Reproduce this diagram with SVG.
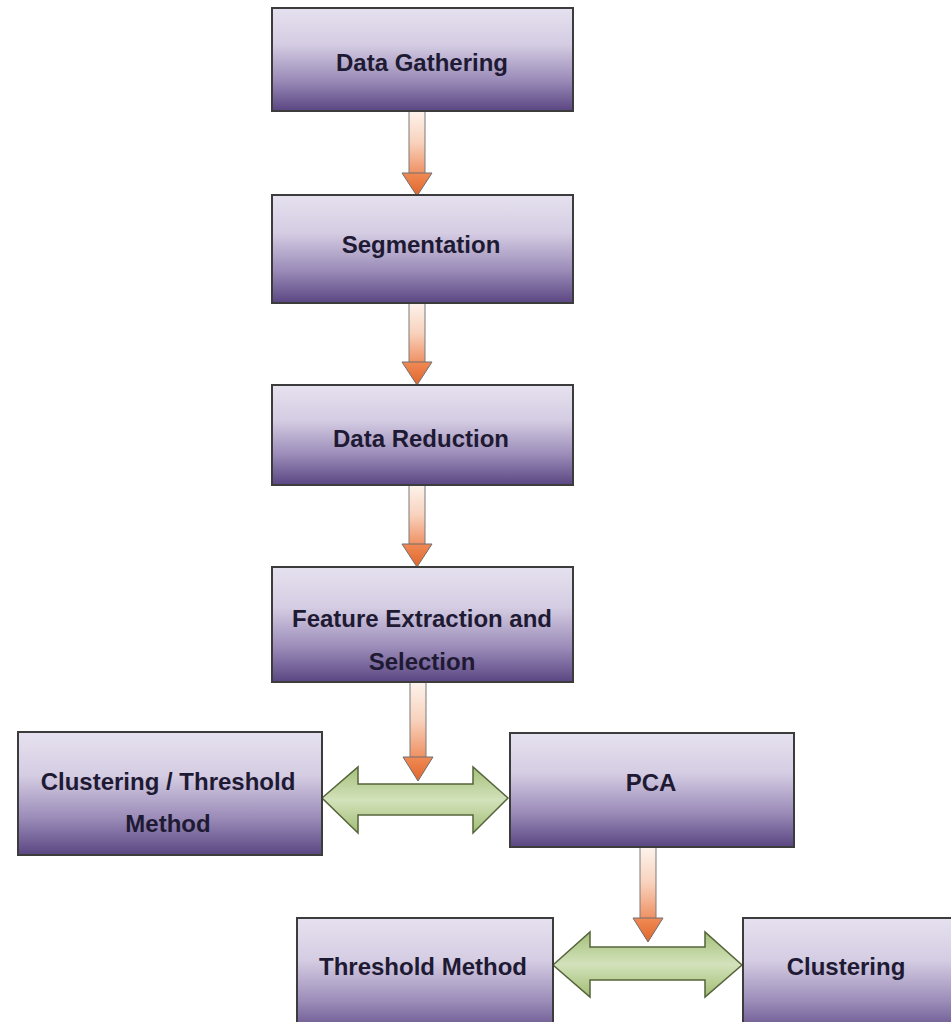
<svg xmlns="http://www.w3.org/2000/svg" width="951" height="1022" viewBox="0 0 951 1022">
<defs>
<linearGradient id="boxg" x1="0" y1="0" x2="0" y2="1">
<stop offset="0" stop-color="#e6e1ef"/>
<stop offset="0.35" stop-color="#d5cde3"/>
<stop offset="0.7" stop-color="#9a8bb8"/>
<stop offset="1" stop-color="#5a4682"/>
</linearGradient>
<linearGradient id="shaftg" x1="0" y1="0" x2="0" y2="1">
<stop offset="0" stop-color="#fdf3ec"/>
<stop offset="0.5" stop-color="#f8d2bd"/>
<stop offset="1" stop-color="#ef8f61"/>
</linearGradient>
<linearGradient id="headg" x1="0" y1="0" x2="0" y2="1">
<stop offset="0" stop-color="#f08a55"/>
<stop offset="1" stop-color="#e0662c"/>
</linearGradient>
<linearGradient id="greeng" x1="0" y1="0" x2="0" y2="1">
<stop offset="0" stop-color="#a4c07a"/>
<stop offset="0.5" stop-color="#d3e2bb"/>
<stop offset="1" stop-color="#a1bd74"/>
</linearGradient>
</defs>
<style>
.box{fill:url(#boxg);stroke:#3c3c3c;stroke-width:2}
.lbl{font-family:"Liberation Sans",Arial,sans-serif;font-weight:bold;font-size:24px;fill:#1f1a33;text-anchor:middle}
.shaft{fill:url(#shaftg);stroke:#7a7a7a;stroke-width:1}
.head{fill:url(#headg);stroke:#6e6e6e;stroke-width:1}
.dbl{fill:url(#greeng);stroke:#55643a;stroke-width:1.5}
</style>
<rect width="951" height="1022" fill="#ffffff"/>
<g id="connectors">
<rect class="shaft" x="409" y="111" width="16" height="63"/>
<polygon class="head" points="402,173 432,173 417,196"/>
<rect class="shaft" x="409" y="303" width="16" height="60"/>
<polygon class="head" points="402,362 432,362 417,385"/>
<rect class="shaft" x="409" y="485" width="16" height="60"/>
<polygon class="head" points="402,544 432,544 417,567"/>
<rect class="shaft" x="410" y="682" width="16" height="76"/>
<polygon class="head" points="403,757 433,757 418,781"/>
<polygon class="dbl" points="322,798 358,767 358,784 473,784 473,767 508,798 473,833 473,815 358,815 358,833"/>
<rect class="shaft" x="640" y="847" width="16" height="72"/>
<polygon class="head" points="633,918 663,918 648,942"/>
<polygon class="dbl" points="553,965 590,932 590,947 705,947 705,932 742,965 705,997 705,980 590,980 590,997"/>
</g>
<g id="n1"><rect class="box" x="272" y="8" width="301" height="103"/><text class="lbl" x="422" y="71">Data Gathering</text></g>
<g id="n2"><rect class="box" x="272" y="195" width="301" height="108"/><text class="lbl" x="421" y="253">Segmentation</text></g>
<g id="n3"><rect class="box" x="272" y="385" width="301" height="100"/><text class="lbl" x="421" y="447">Data Reduction</text></g>
<g id="n4"><rect class="box" x="272" y="567" width="301" height="115"/><text class="lbl" x="422" y="627">Feature Extraction and</text><text class="lbl" x="422" y="670">Selection</text></g>
<g id="n5"><rect class="box" x="18" y="732" width="304" height="123"/><text class="lbl" x="168" y="790">Clustering / Threshold</text><text class="lbl" x="168" y="832">Method</text></g>
<g id="n6"><rect class="box" x="510" y="733" width="284" height="114"/><text class="lbl" x="651" y="791">PCA</text></g>
<g id="n7"><rect class="box" x="297" y="918" width="256" height="120"/><text class="lbl" x="423" y="975">Threshold Method</text></g>
<g id="n8"><rect class="box" x="743" y="918" width="220" height="120"/><text class="lbl" x="846" y="975">Clustering</text></g>
</svg>
